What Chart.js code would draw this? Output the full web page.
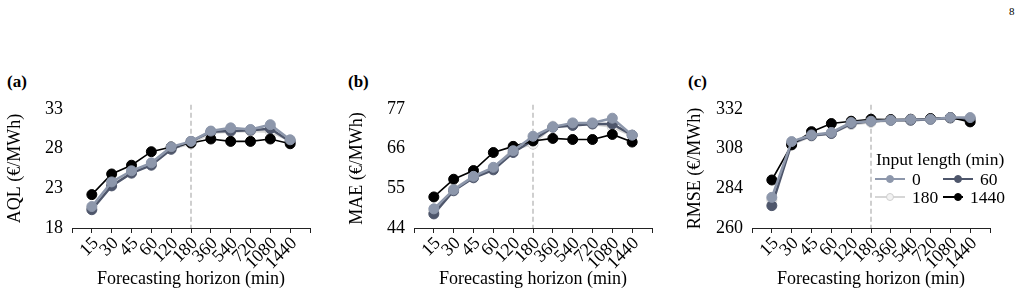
<!DOCTYPE html>
<html>
<head>
<meta charset="utf-8">
<script src="https://cdn.jsdelivr.net/npm/chart.js@4.4.1/dist/chart.umd.min.js"></script>
<style>
    body { margin: 0; width: 1024px; height: 296px; background: #fff; position: relative; overflow: hidden;
           font-family: "Liberation Serif", "Times New Roman", serif; color: #000; }
    canvas { position: absolute; top: 89px; }
    .tag { position: absolute; top: 72px; font-weight: bold; font-size: 17px; }
    #page { position: absolute; left: 1009px; top: 5px; font-size: 11px; }
    #legend { position: absolute; left: 876px; top: 150px; font-size: 17.5px; line-height: 18px; }
    #legend .items { display: grid; grid-template-columns: 68px 62px; margin-left: -1px; margin-top: 2px; }
    #legend .item { display: flex; align-items: center; white-space: nowrap; }
    #legend .line { position: relative; width: 30px; height: 2px; margin-right: 7px; }
    #legend .dot { position: absolute; left: 11px; top: -3px; width: 8px; height: 8px; border-radius: 50%; box-sizing: border-box; }
</style>
</head>
<body>
<div id="page">8</div>
<div class="tag" style="left:7px">(a)</div>
<div class="tag" style="left:348px">(b)</div>
<div class="tag" style="left:688px">(c)</div>
<canvas id="chartA" width="340" height="207" style="left:0px"></canvas>
<canvas id="chartB" width="340" height="207" style="left:342px"></canvas>
<canvas id="chartC" width="340" height="207" style="left:680px"></canvas>
<div id="legend">
    <div>Input length (min)</div>
    <div class="items" id="legendItems"></div>
</div>
<script>
// forecasting horizons (min) on the x axis
const horizons = ['15', '30', '45', '60', '120', '180', '360', '540', '720', '1080', '1440'];
const inputLengths = ['0', '60', '180', '1440'];

// (a) AQL
const aql0    = [20.7, 23.8, 25.2, 26.2, 28.2, 28.9, 30.2, 30.6, 30.4, 31.0, 29.1];
const aql60   = [20.3, 23.3, 24.9, 25.9, 27.9, 28.9, 30.1, 30.2, 30.3, 30.5, 28.9];
const aql180  = [20.5, 23.6, 25.0, 26.0, 28.0, 28.6, 30.0, 30.1, 30.2, 30.1, 29.0];
const aql1440 = [22.2, 24.8, 25.9, 27.6, 28.2, 28.7, 29.2, 28.9, 28.9, 29.2, 28.6];

// (b) MAE
const mae0    = [49.3, 54.6, 58.3, 60.8, 65.4, 69.4, 72.0, 73.1, 73.1, 74.4, 69.7];
const mae60   = [47.9, 54.3, 57.9, 60.1, 64.9, 68.3, 71.9, 72.4, 72.8, 72.8, 69.7];
const mae180  = [48.5, 54.8, 58.2, 60.5, 65.8, 67.2, 72.2, 72.5, 72.8, 72.0, 69.5];
const mae1440 = [52.6, 57.5, 59.9, 64.9, 66.6, 68.1, 68.8, 68.5, 68.5, 69.9, 67.8];

// (c) RMSE
const rmse0    = [278.5, 312.2, 316.2, 317.7, 323.7, 324.5, 325.1, 325.5, 325.7, 326.7, 326.7];
const rmse60   = [273.5, 311.2, 315.8, 317.1, 323.1, 324.5, 325.1, 325.1, 325.7, 326.5, 325.7];
const rmse180  = [277.0, 310.5, 315.5, 317.0, 322.5, 323.8, 325.0, 325.0, 325.7, 326.3, 326.3];
const rmse1440 = [289.0, 310.2, 318.2, 323.1, 324.5, 325.7, 325.5, 325.7, 326.1, 326.7, 324.1];

const colors = { '0': '#8d97ab', '60': '#4e566b', '180': '#d6d6d6', '1440': '#000000' };
const dotFill = { '0': '#8d97ab', '60': '#4e566b', '180': '#f2f2f2', '1440': '#000000' };
const lineW = { '0': 2.5, '60': 2.5, '180': 2.5, '1440': 1.6 };

const FONT = '"Liberation Serif", "Times New Roman", serif';

// dashed marker at the 180 min horizon
const dashLine = {
    id: 'dashLine',
    beforeDatasetsDraw(chart) {
        const ctx = chart.ctx;
        const area = chart.chartArea;
        const x = chart.scales.x.getPixelForValue(horizons.indexOf('180'));
        ctx.save();
        ctx.strokeStyle = '#cfcfcf';
        ctx.lineWidth = 2;
        ctx.setLineDash([5, 3]);
        ctx.beginPath();
        ctx.moveTo(x, area.top - 4);
        ctx.lineTo(x, area.bottom);
        ctx.stroke();
        ctx.restore();
    }
};

function makeSet(name, values) {
    return {
        label: name,
        data: values.map((v, i) => ({ x: i, y: v })),
        borderColor: colors[name],
        backgroundColor: dotFill[name],
        pointBackgroundColor: dotFill[name],
        pointBorderColor: name === '180' ? '#d0d0d0' : colors[name],
        pointBorderWidth: 1,
        pointRadius: 5,
        borderWidth: lineW[name],
        tension: 0
    };
}

function makePanel(id, yTitle, yMin, yMax, yStep, s0, s60, s180, s1440) {
    const ctx = document.getElementById(id).getContext('2d');
    return new Chart(ctx, {
        type: 'line',
        // first dataset ends up on top
        data: { datasets: [makeSet('0', s0), makeSet('1440', s1440), makeSet('60', s60), makeSet('180', s180)] },
        options: {
            responsive: false,
            animation: false,
            layout: { padding: { top: 7, right: 30, left: 0, bottom: 0 } },
            plugins: { legend: { display: false }, tooltip: { enabled: false } },
            scales: {
                x: {
                    type: 'linear',
                    min: -1,
                    max: horizons.length,
                    afterFit: s => { s.height = 68; },
                    grid: { display: true, drawOnChartArea: false, drawTicks: true, tickLength: 5, color: '#222' },
                    border: { display: true, color: '#222', width: 1 },
                    ticks: {
                        stepSize: 1,
                        autoSkip: false,
                        maxRotation: 45,
                        minRotation: 45,
                        padding: 0,
                        labelOffset: 4,
                        color: '#000',
                        font: { family: FONT, size: 18 },
                        callback: v => horizons[v] !== undefined ? horizons[v] : ''
                    },
                    title: { display: true, text: 'Forecasting horizon (min)', color: '#000',
                             font: { family: FONT, size: 18 }, padding: { top: 0, bottom: 6 } }
                },
                y: {
                    min: yMin,
                    max: yMax,
                    afterFit: s => { s.width = 72; },
                    grid: { display: false, drawTicks: false },
                    border: { display: false },
                    ticks: { stepSize: yStep, padding: 9, color: '#000', font: { family: FONT, size: 18 } },
                    title: { display: true, text: yTitle, color: '#000',
                             font: { family: FONT, size: 18 }, padding: { top: 4, bottom: 0 } }
                }
            }
        },
        plugins: [dashLine]
    });
}

makePanel('chartA', 'AQL (€/MWh)', 18, 33, 5, aql0, aql60, aql180, aql1440);
makePanel('chartB', 'MAE (€/MWh)', 44, 77, 11, mae0, mae60, mae180, mae1440);
makePanel('chartC', 'RMSE (€/MWh)', 260, 332, 24, rmse0, rmse60, rmse180, rmse1440);

// legend for panel (c): two columns, 0 / 60 then 180 / 1440
const legendOrder = ['0', '60', '180', '1440'];
const box = document.getElementById('legendItems');
legendOrder.forEach(name => {
    const item = document.createElement('div');
    item.className = 'item';
    const line = document.createElement('span');
    line.className = 'line';
    line.style.background = colors[name];
    const dot = document.createElement('span');
    dot.className = 'dot';
    dot.style.background = dotFill[name];
    dot.style.border = '1px solid ' + (name === '180' ? '#cfcfcf' : colors[name]);
    line.appendChild(dot);
    item.appendChild(line);
    item.appendChild(document.createTextNode(name));
    box.appendChild(item);
});
</script>
</body>
</html>
